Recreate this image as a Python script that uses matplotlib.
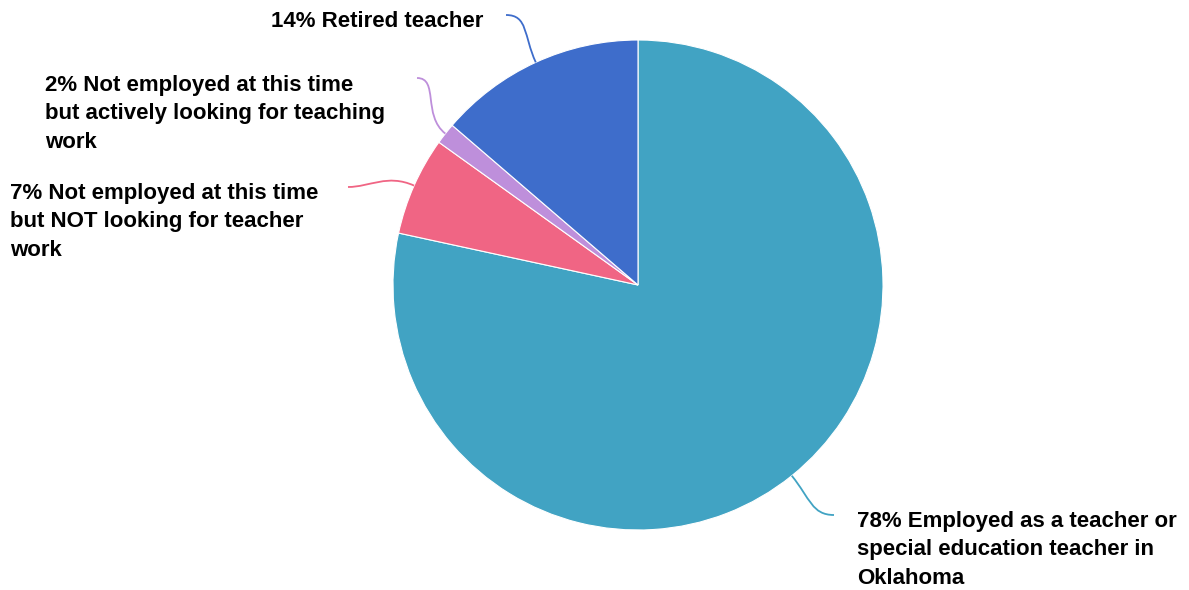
import numpy as np
import matplotlib.pyplot as plt
from matplotlib.path import Path
from matplotlib.patches import PathPatch

# slice values (share of respondents), clockwise from 12 o'clock
categories = [
    "Employed as a teacher or\nspecial education teacher in\nOklahoma",
    "Not employed at this time\nbut NOT looking for teacher\nwork",
    "Not employed at this time\nbut actively looking for teaching\nwork",
    "Retired teacher",
]
values = [78.4, 6.5, 1.4, 13.7]
pct_labels = [78, 7, 2, 14]
colors = ["#41a3c3", "#f06584", "#be8fdb", "#3e6dcb"]

# label layout in pixels: text left x, last-line baseline y, connector end
label_xy = [(857, 584), (10, 256), (45, 148), (271, 27)]
conn_end = [(834, 515), (348, 187), (417, 78), (506, 15)]

W, H = 1189, 590
CX, CY, R = 638, 285, 245


def to_data(x, y):
    return (x - CX) / R, (CY - y) / R


fig = plt.figure(figsize=(W / 100, H / 100), dpi=100)
ax = fig.add_axes([0, 0, 1, 1])

wedges, _ = ax.pie(values, colors=colors, startangle=90, counterclock=False,
                   radius=1, wedgeprops=dict(edgecolor="white", linewidth=0.8))

ax.set_aspect("auto")
ax.set_xlim(-CX / R, (W - CX) / R)
ax.set_ylim(-(H - CY) / R, CY / R)
ax.axis("off")

for i, w in enumerate(wedges):
    mid = np.deg2rad((w.theta1 + w.theta2) / 2)
    p0 = (np.cos(mid), np.sin(mid))
    p1 = (1.12 * np.cos(mid), 1.12 * np.sin(mid))
    ex, ey = to_data(*conn_end[i])
    side = 1 if ex > 0 else -1
    p2 = (ex - side * 0.09, ey)
    path = Path([p0, p1, p2, (ex, ey)],
                [Path.MOVETO, Path.CURVE4, Path.CURVE4, Path.CURVE4])
    ax.add_patch(PathPatch(path, fc="none", ec=colors[i], lw=1.3))

    tx, ty = to_data(*label_xy[i])
    ax.text(tx, ty, f"{pct_labels[i]}% {categories[i]}", ha="left",
            va="baseline", fontsize=16, fontweight="bold",
            family="Liberation Sans", linespacing=1.47, color="black")

fig.savefig("out.png", dpi=100)
